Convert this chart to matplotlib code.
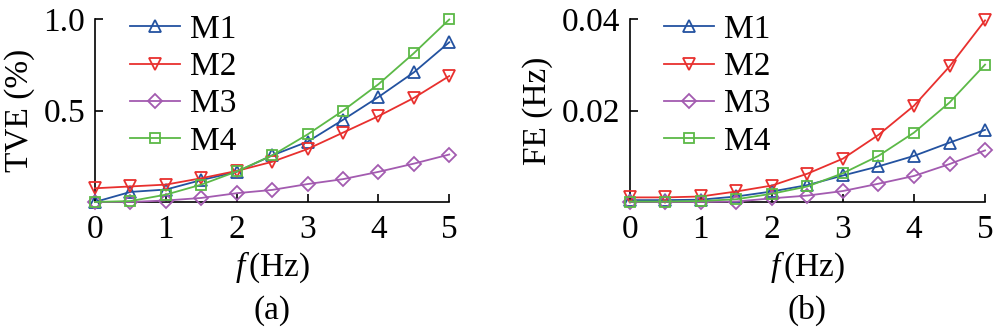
import numpy as np
import matplotlib
matplotlib.use("Agg")
from matplotlib import pyplot as plt

plt.rcParams['font.family'] = ['Liberation Serif', 'DejaVu Serif']
plt.rcParams['mathtext.fontset'] = 'custom'
plt.rcParams['mathtext.rm'] = 'Liberation Serif'
plt.rcParams['mathtext.it'] = 'Liberation Serif:italic'

# frequency deviation (Hz)
f = [0, 0.5, 1, 1.5, 2, 2.5, 3, 3.5, 4, 4.5, 5]

# total vector error (%)
tve_m1 = [0, 0.055, 0.068, 0.12, 0.165, 0.255, 0.33, 0.45, 0.575, 0.71, 0.875]
tve_m2 = [0.075, 0.085, 0.095, 0.13, 0.17, 0.22, 0.29, 0.38, 0.47, 0.57, 0.69]
tve_m3 = [0, 0, 0.008, 0.022, 0.048, 0.066, 0.098, 0.125, 0.165, 0.21, 0.26]
tve_m4 = [0, 0.005, 0.04, 0.095, 0.167, 0.255, 0.37, 0.50, 0.645, 0.815, 1.0]

# frequency error (Hz)
fe_m1 = [0.0004, 0.0004, 0.0005, 0.0012, 0.0023, 0.0037, 0.0058, 0.0078, 0.0101, 0.013, 0.0158]
fe_m2 = [0.001, 0.001, 0.0012, 0.0023, 0.0036, 0.0062, 0.0095, 0.0147, 0.0211, 0.0297, 0.0398]
fe_m3 = [0, 0, 0, 0.0001, 0.0008, 0.0014, 0.0024, 0.004, 0.0057, 0.0083, 0.0113]
fe_m4 = [0.0001, 0.0001, 0.0002, 0.0006, 0.0018, 0.0034, 0.0063, 0.0101, 0.0152, 0.0218, 0.0301]

names = ["M1", "M2", "M3", "M4"]
colors = ["#2352a0", "#e8302e", "#a35bb0", "#5cb947"]
markers = ["^", "v", "D", "s"]
msizes = [8.5, 8.5, 7, 6.5]


def panel(ax, series, yticks, yticklabels, ylabel):
    for y, name, c, m, ms in zip(series, names, colors, markers, msizes):
        ax.plot(f, y, color=c, marker=m, ms=ms, mfc="none", mec=c, mew=1.3,
                lw=1.3, label=name, clip_on=False, zorder=3)
    ax.set_xlim(0, 5)
    ax.set_ylim(0, yticks[-1])
    ax.set_xticks([0, 1, 2, 3, 4, 5])
    ax.set_yticks(yticks)
    ax.set_yticklabels(yticklabels)
    ax.spines["top"].set_visible(False)
    ax.spines["right"].set_visible(False)
    for s in ("left", "bottom"):
        ax.spines[s].set_linewidth(1.2)
    ax.tick_params(direction="in", length=6, width=1.2, labelsize=24, pad=7)
    ax.tick_params(axis="x", pad=9)
    ax.set_xlabel(r"$f\,$(Hz)", fontsize=24, labelpad=3)
    ax.set_ylabel(ylabel, fontsize=24, labelpad=6)
    ax.legend(loc="upper left", bbox_to_anchor=(0.06, 1.1), frameon=False,
              fontsize=24, handlelength=1.5, handletextpad=0.3,
              labelspacing=0.2, borderaxespad=0)


fig = plt.figure(figsize=(9.95, 3.3), dpi=100)
ax1 = fig.add_axes([0.0955, 0.388, 0.356, 0.553])
ax2 = fig.add_axes([0.633, 0.388, 0.357, 0.553])

panel(ax1, [tve_m1, tve_m2, tve_m3, tve_m4], [0.5, 1.0], ["0.5", "1.0"], "TVE (%)")
panel(ax2, [fe_m1, fe_m2, fe_m3, fe_m4], [0.02, 0.04], ["0.02", "0.04"], "FE (Hz)")

fig.text(0.273, 0.06, "(a)", fontsize=24, ha="center", va="center")
fig.text(0.811, 0.06, "(b)", fontsize=24, ha="center", va="center")

fig.savefig("out.png", dpi=100)
